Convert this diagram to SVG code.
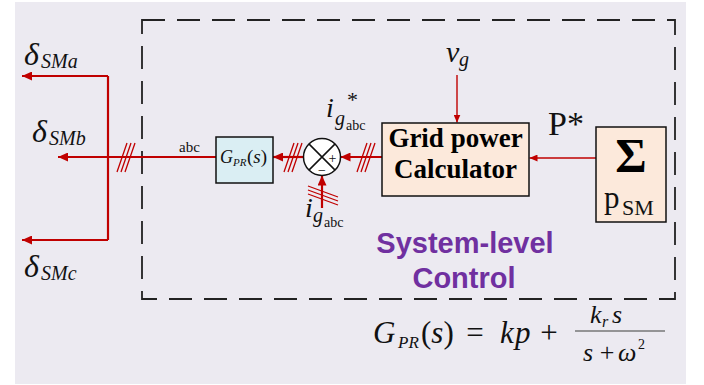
<svg xmlns="http://www.w3.org/2000/svg" width="704" height="385" viewBox="0 0 704 385">
<defs>
<style>
.bg{fill:#ECEAF1}
.frame{fill:none;stroke:#222;stroke-width:1.8;stroke-dasharray:23 12}
.red{fill:none;stroke:#C00000;stroke-width:2.2}
.redthin{fill:none;stroke:#C00000;stroke-width:1.4}
.hash{fill:none;stroke:#C00000;stroke-width:1.3}
.box{stroke:#111;stroke-width:1.5}
.blue{fill:#DAEEF3}
.peach{fill:#FCE9DB}
.m{font-family:"Liberation Serif",serif;font-style:italic;fill:#111}
.r{font-family:"Liberation Serif",serif;fill:#111}
.b{font-family:"Liberation Serif",serif;font-weight:bold;fill:#000}
.purple{font-family:"Liberation Sans",Arial,sans-serif;font-weight:bold;fill:#7030A0;font-size:29px}
</style>
<marker id="ah" viewBox="0 0 10 9" refX="10" refY="4.5" markerWidth="10" markerHeight="9" markerUnits="userSpaceOnUse" orient="auto">
<path d="M0,0 L10,4.5 L0,9 Z" fill="#C00000"/>
</marker>
<marker id="ahs" viewBox="0 0 8 7" refX="8" refY="3.5" markerWidth="8" markerHeight="7" markerUnits="userSpaceOnUse" orient="auto">
<path d="M0,0 L8,3.5 L0,7 Z" fill="#C00000"/>
</marker>
</defs>

<rect class="bg" x="15" y="2" width="671" height="382"/>
<rect class="frame" x="142" y="20" width="533" height="279"/>

<g id="connectors">
<path class="red" d="M108,76 V240"/>
<path class="red" d="M108,76 H22" marker-end="url(#ah)"/>
<path class="red" d="M108,240 H22" marker-end="url(#ah)"/>
<path class="red" d="M216,157 H58" marker-end="url(#ah)"/>
<path class="red" d="M303.5,157 H273" marker-end="url(#ah)"/>
<path class="red" d="M382,157 H340.5" marker-end="url(#ah)"/>
<path class="red" d="M322,208 V175.5" marker-end="url(#ah)"/>
<path class="redthin" d="M457,75 V122.5" marker-end="url(#ahs)"/>
<path class="redthin" d="M596,158 H529.5" marker-end="url(#ahs)"/>
<g id="hash-left">
<path class="hash" d="M117,172 L127,143 M121,172 L131,143 M125,172 L135,143"/>
</g>
<g id="hash-mid">
<path class="hash" d="M284,172 L294,143 M288,172 L298,143 M292,172 L302,143"/>
</g>
<g id="hash-right">
<path class="hash" d="M357,172 L367,143 M361,172 L371,143 M365,172 L375,143"/>
</g>
<g id="hash-bottom">
<path class="hash" d="M308,186 L338,197 M308,190 L338,201 M308,194 L338,205"/>
</g>
<text class="r" x="179" y="152" font-size="15">abc</text>
</g>

<g id="delta-labels">
<text class="m" x="24" y="65" font-size="32">δ</text>
<text class="m" x="41" y="68" font-size="20">SMa</text>
<text class="m" x="32" y="142" font-size="32">δ</text>
<text class="m" x="49" y="145" font-size="20">SMb</text>
<text class="m" x="24" y="277" font-size="32">δ</text>
<text class="m" x="41" y="280" font-size="20">SMc</text>
</g>

<g id="gpr">
<rect class="box blue" x="216" y="137" width="57" height="46"/>
<text class="m" x="220" y="163" font-size="18">G</text>
<text class="m" x="233" y="166" font-size="11">PR</text>
<text class="r" x="247" y="163" font-size="19">(<tspan class="m">s</tspan>)</text>
</g>

<g id="sum">
<circle cx="322" cy="157" r="18.5" fill="#fff" stroke="#111" stroke-width="1.5"/>
<path d="M308.9,143.9 L335.1,170.1 M335.1,143.9 L308.9,170.1" stroke="#111" stroke-width="1.5"/>
<text class="r" x="332.5" y="163" font-size="14" text-anchor="middle">+</text>
<text class="r" x="322" y="175" font-size="14" text-anchor="middle">−</text>
</g>

<g id="iref-label">
<text class="m" x="326" y="117" font-size="28">i</text>
<text class="m" x="335" y="125" font-size="20">g</text>
<text class="r" x="346" y="130" font-size="14">abc</text>
<text class="r" x="347" y="107" font-size="22">*</text>
</g>

<g id="ig-label">
<text class="m" x="305" y="217" font-size="28">i</text>
<text class="m" x="313" y="222" font-size="20">g</text>
<text class="r" x="324" y="227" font-size="14">abc</text>
</g>

<g id="vg-label">
<text class="m" x="446" y="62" font-size="30">v</text>
<text class="m" x="459" y="66" font-size="20">g</text>
</g>

<g id="grid-power">
<rect class="box peach" x="382" y="123" width="147" height="73"/>
<text class="b" x="455.5" y="147" font-size="27" text-anchor="middle">Grid power</text>
<text class="b" x="455.5" y="178" font-size="27" text-anchor="middle">Calculator</text>
</g>

<text class="r" x="548" y="135" font-size="34">P*</text>

<g id="sigma">
<rect class="box peach" x="596" y="127" width="70" height="95"/>
<text class="b" x="631" y="172" font-size="48" text-anchor="middle">Σ</text>
<text class="r" x="604" y="208" font-size="31">p</text>
<text class="r" x="622" y="215" font-size="22">SM</text>
</g>

<g id="system-label">
<text class="purple" x="465" y="253" text-anchor="middle">System-level</text>
<text class="purple" x="464" y="288" text-anchor="middle">Control</text>
</g>

<g id="formula">
<text class="m" x="373" y="343" font-size="31">G</text>
<text class="m" x="398" y="348" font-size="17">PR</text>
<text class="r" x="421" y="343" font-size="31">(<tspan class="m">s</tspan>)</text>
<text class="r" x="475" y="343" font-size="31" text-anchor="middle">=</text>
<text class="m" x="500" y="343" font-size="31">k</text>
<text class="m" x="515" y="343" font-size="31">p</text>
<text class="r" x="549" y="343" font-size="31" text-anchor="middle">+</text>
<line x1="575" y1="331" x2="665" y2="331" stroke="#777" stroke-width="1.6"/>
<text class="m" x="590" y="323" font-size="26">k</text>
<text class="m" x="602" y="327" font-size="16">r</text>
<text class="m" x="612" y="323" font-size="26">s</text>
<text class="m" x="583" y="361" font-size="26">s</text>
<text class="r" x="607" y="361" font-size="26" text-anchor="middle">+</text>
<text class="m" x="618" y="361" font-size="26">ω</text>
<text class="r" x="638" y="349" font-size="14">2</text>
</g>
</svg>
